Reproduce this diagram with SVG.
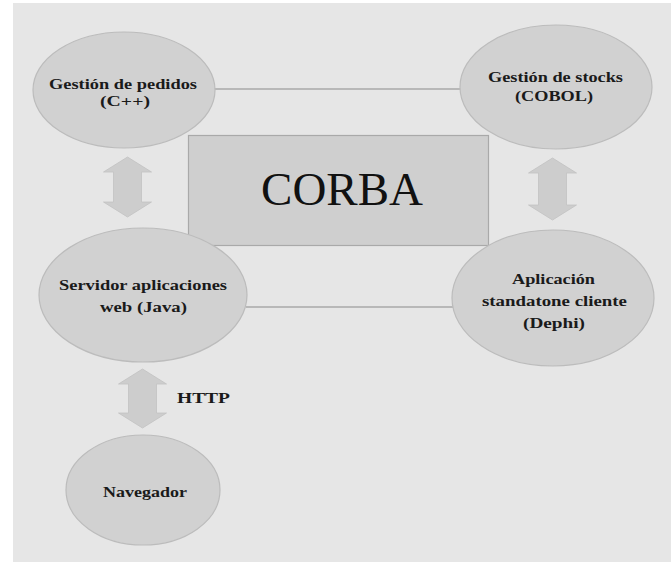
<svg xmlns="http://www.w3.org/2000/svg" width="671" height="562" viewBox="0 0 671 562">
<style>
.node ellipse{fill:#d1d1d1;stroke:#bcbcbc;stroke-width:1.2}
.lbl{font-weight:bold;fill:#1a1a1a;text-anchor:middle}
.conn line{stroke:#a8a8a8;stroke-width:1.3}
.arrow{fill:#cdcdcd;stroke:#c2c2c2;stroke-width:0.8}
</style>
<rect x="0" y="0" width="671" height="562" fill="#ffffff"/>
<rect x="13" y="3" width="658" height="559" fill="#e6e6e6"/>
<g font-family="'Liberation Serif', 'Times New Roman', serif" font-size="15.5">
<g id="connectors" class="conn">
<line x1="214" y1="89" x2="461" y2="89"/>
<line x1="246" y1="307" x2="453" y2="307"/>
<path class="arrow" d="M127.5,157 L151.5,172 L141.5,172 L141.5,202 L151.5,202 L127.5,217 L103.5,202 L113.5,202 L113.5,172 L103.5,172 Z"/>
<path class="arrow" d="M552.5,158 L576.5,173 L566.5,173 L566.5,205 L576.5,205 L552.5,220 L528.5,205 L538.5,205 L538.5,173 L528.5,173 Z"/>
<path class="arrow" d="M142.5,369 L166.5,384 L156.5,384 L156.5,413 L166.5,413 L142.5,428 L118.5,413 L128.5,413 L128.5,384 L118.5,384 Z"/>
<text class="lbl" x="203.5" y="403" textLength="53" lengthAdjust="spacingAndGlyphs">HTTP</text>
</g>
<g id="corba">
<rect x="188.5" y="135.5" width="300" height="110" fill="#cfcfcf" stroke="#a9a9a9" stroke-width="1.2"/>
<text x="342" y="205" font-size="47" fill="#111" text-anchor="middle">CORBA</text>
</g>
<g id="pedidos" class="node">
<ellipse cx="124" cy="90" rx="91" ry="58"/>
<text class="lbl" x="123" y="89" textLength="148" lengthAdjust="spacingAndGlyphs">Gestión de pedidos</text>
<text class="lbl" x="125" y="106" textLength="50" lengthAdjust="spacingAndGlyphs">(C++)</text>
</g>
<g id="stocks" class="node">
<ellipse cx="556" cy="87" rx="96" ry="62"/>
<text class="lbl" x="555.5" y="82" textLength="135" lengthAdjust="spacingAndGlyphs">Gestión de stocks</text>
<text class="lbl" x="554" y="101" textLength="78" lengthAdjust="spacingAndGlyphs">(COBOL)</text>
</g>
<g id="servidor" class="node">
<ellipse cx="143" cy="295" rx="104" ry="67"/>
<text class="lbl" x="143" y="290" textLength="168" lengthAdjust="spacingAndGlyphs">Servidor aplicaciones</text>
<text class="lbl" x="143.5" y="312" textLength="87" lengthAdjust="spacingAndGlyphs">web (Java)</text>
</g>
<g id="aplicacion" class="node">
<ellipse cx="553" cy="298" rx="101" ry="68"/>
<text class="lbl" x="553.5" y="284" textLength="83" lengthAdjust="spacingAndGlyphs">Aplicación</text>
<text class="lbl" x="554.5" y="306" textLength="145" lengthAdjust="spacingAndGlyphs">standatone cliente</text>
<text class="lbl" x="554" y="328" textLength="62" lengthAdjust="spacingAndGlyphs">(Dephi)</text>
</g>
<g id="navegador" class="node">
<ellipse cx="143" cy="490" rx="77" ry="55"/>
<text class="lbl" x="145" y="497" textLength="84" lengthAdjust="spacingAndGlyphs">Navegador</text>
</g>
</g>
</svg>
